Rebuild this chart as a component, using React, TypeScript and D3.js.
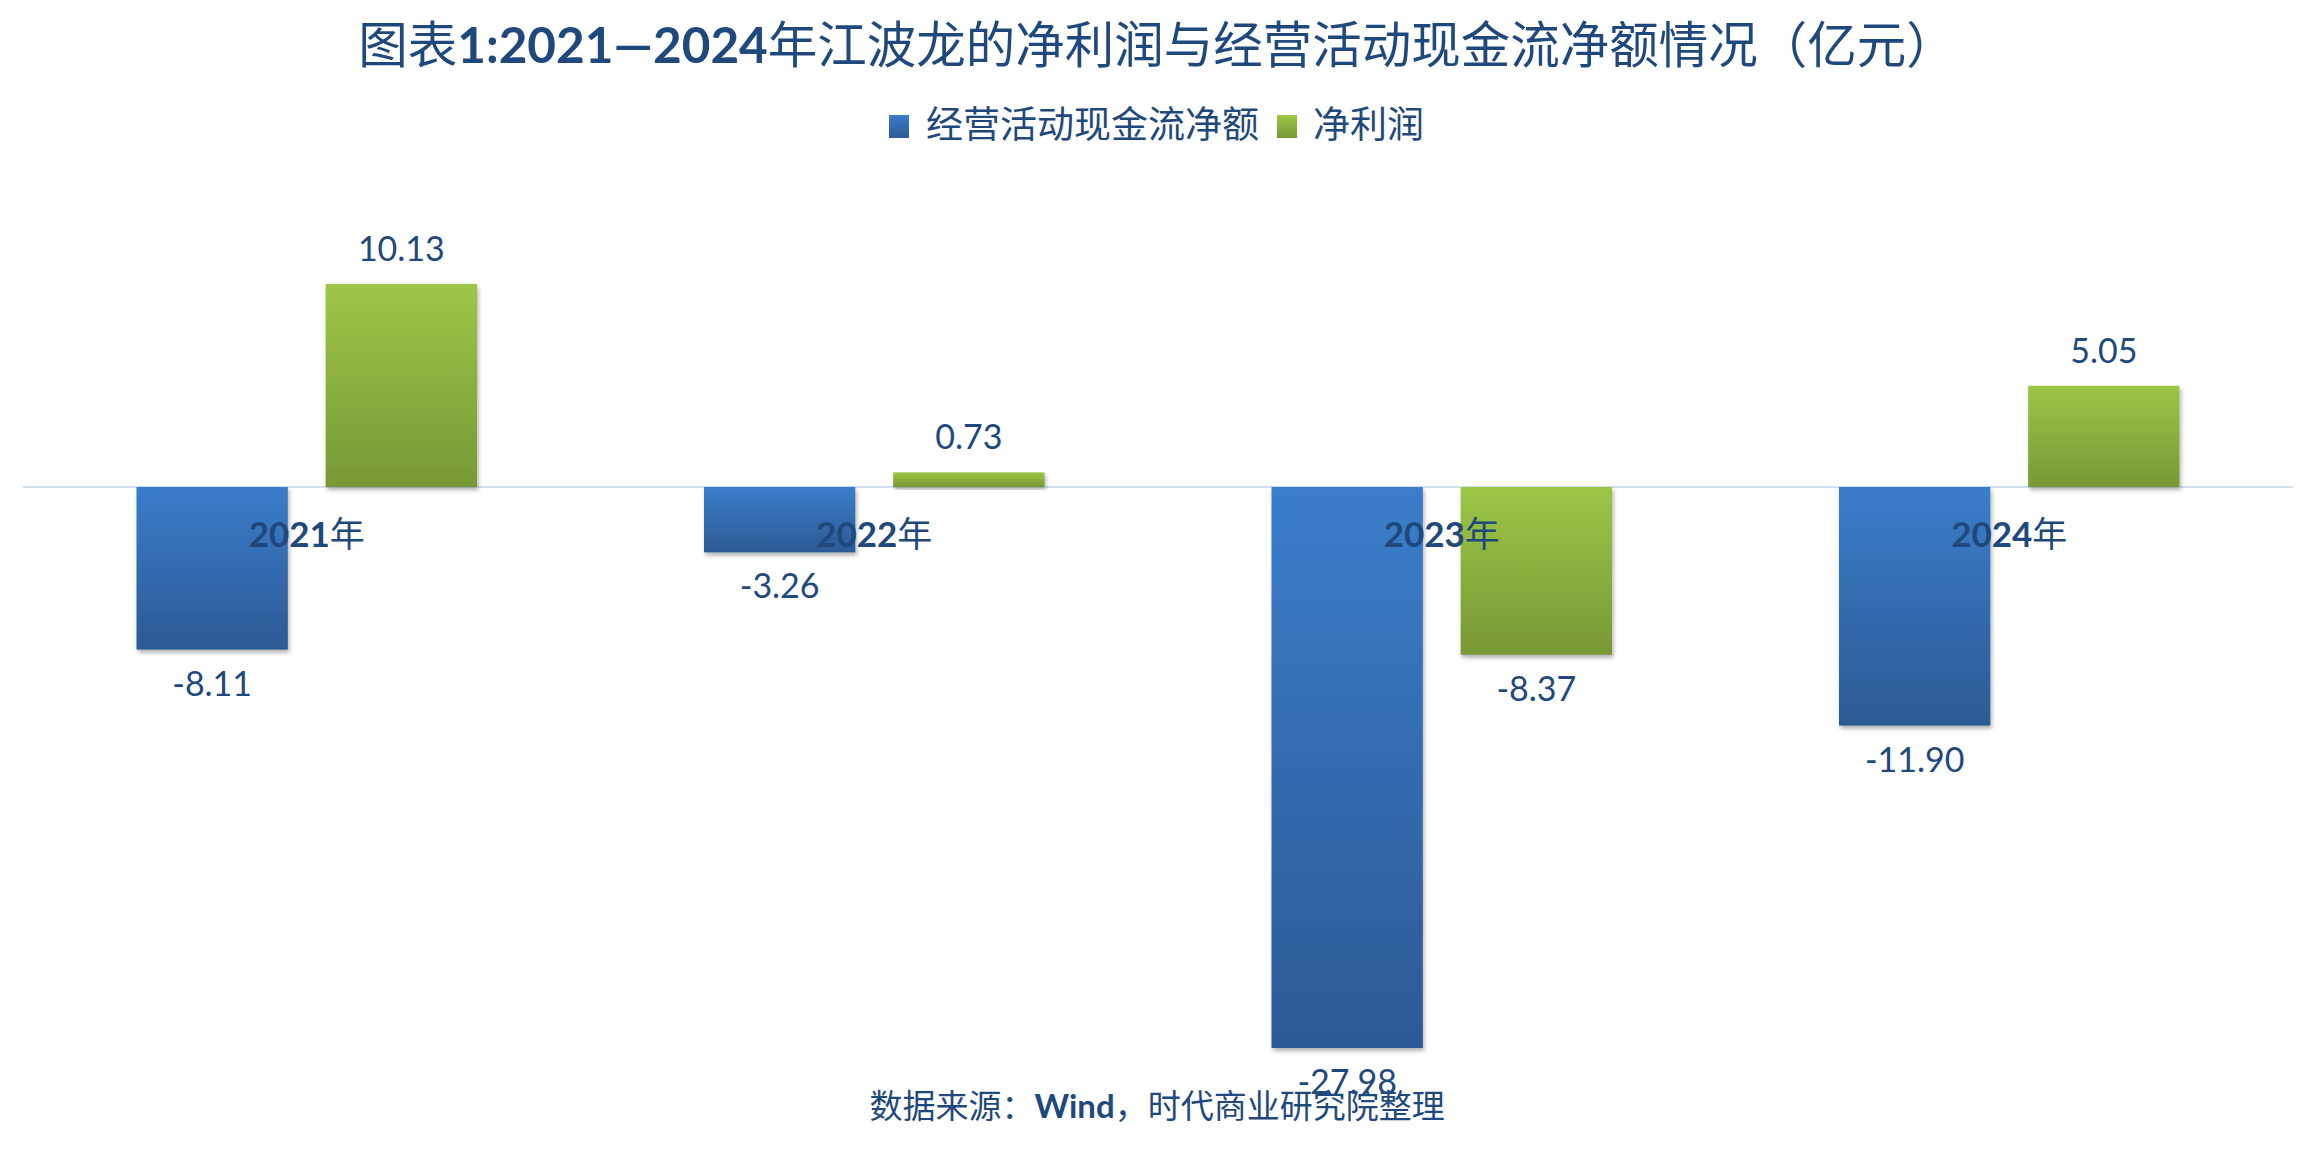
import React from 'react';
import * as d3 from 'd3';

const years = ['2021年', '2022年', '2023年', '2024年'];
const seriesKeys = ['cf', 'np'];
const seriesNames = ['经营活动现金流净额', '净利润'];
const cashFlow = [-8.11, -3.26, -27.98, -11.9];
const netProfit = [10.13, 0.73, -8.37, 5.05];
const labelsCF = ['-8.11', '-3.26', '-27.98', '-11.90'];
const labelsNP = ['10.13', '0.73', '-8.37', '5.05'];

const W = 2314;
const H = 1172;
const TEXT = '#1f497d';
const CJK = "'Noto Sans CJK SC', 'Noto Sans', sans-serif";
const NUM = "Lato, 'Noto Sans', sans-serif";

export default function App() {
  const x = d3.scaleBand<string>().domain(years).range([23, 2293]).paddingInner(0.4).paddingOuter(0.2);
  const xs = d3.scaleBand<string>().domain(seriesKeys).range([0, x.bandwidth()]).paddingInner(0.2);
  const y = d3.scaleLinear().domain([-30, 15]).range([1088.5, 186.25]);
  const y0 = y(0);

  const series = [
    { key: 'cf', values: cashFlow, labels: labelsCF, grad: 'url(#gBlue)' },
    { key: 'np', values: netProfit, labels: labelsNP, grad: 'url(#gGreen)' },
  ];

  return (
    <svg width={W} height={H} style={{ position: 'absolute', left: 0, top: 0, background: '#fff' }}>
      <defs>
        <linearGradient id="gBlue" x1="0" y1="0" x2="0" y2="1">
          <stop offset="0%" stopColor="#3b7dcb" />
          <stop offset="100%" stopColor="#2c5a94" />
        </linearGradient>
        <linearGradient id="gGreen" x1="0" y1="0" x2="0" y2="1">
          <stop offset="0%" stopColor="#9dc647" />
          <stop offset="100%" stopColor="#779835" />
        </linearGradient>
        <filter id="shadow" x="-10%" y="-10%" width="130%" height="130%">
          <feDropShadow dx="1.5" dy="3" stdDeviation="2" floodColor="#000" floodOpacity="0.3" />
        </filter>
      </defs>
      <rect x={0} y={0} width={W} height={H} fill="#fff" />

      {/* Title */}
      <text x={W / 2} y={63} textAnchor="middle" fontSize={49.5} fill={TEXT} fontFamily={CJK}>
        图表<tspan fontFamily={NUM} fontWeight="bold">1:2021—2024</tspan>年江波龙的净利润与经营活动现金流净额情况（亿元）
      </text>

      {/* Legend */}
      <rect x={889} y={115} width={20} height={23} fill="url(#gBlue)" />
      <text x={926} y={138} fontSize={37} fill={TEXT} fontFamily={CJK}>{seriesNames[0]}</text>
      <rect x={1277} y={115} width={20} height={23} fill="url(#gGreen)" />
      <text x={1313} y={138} fontSize={37} fill={TEXT} fontFamily={CJK}>{seriesNames[1]}</text>

      {/* Zero line */}
      <line x1={23} x2={2293} y1={y0} y2={y0} stroke="#d3e0ef" strokeWidth={2} />

      {/* Bars */}
      {series.map((s) =>
        years.map((yr, i) => {
          const v = s.values[i];
          const bx = (x(yr) as number) + (xs(s.key) as number);
          const top = Math.min(y(v), y0);
          const h = Math.abs(y(v) - y0);
          return (
            <rect key={s.key + yr} x={bx} y={top} width={xs.bandwidth()} height={h} fill={s.grad} filter="url(#shadow)" />
          );
        })
      )}

      {/* Category labels */}
      {years.map((yr) => (
        <text key={'c' + yr} x={(x(yr) as number) + x.bandwidth() / 2} y={547} textAnchor="middle" fontSize={35} fill={TEXT} fontFamily={CJK}>
          <tspan fontFamily={NUM} fontWeight="bold">{yr.replace('年', '')}</tspan>年
        </text>
      ))}

      {/* Value labels */}
      {series.map((s) =>
        years.map((yr, i) => {
          const v = s.values[i];
          const cx = (x(yr) as number) + (xs(s.key) as number) + xs.bandwidth() / 2;
          const ly = v >= 0 ? y(v) - 23 : y(v) + 46;
          return (
            <text key={'v' + s.key + yr} x={cx} y={ly} textAnchor="middle" fontSize={34} fill={TEXT} fontFamily={NUM}>
              {s.labels[i]}
            </text>
          );
        })
      )}

      {/* Footer */}
      <text x={W / 2} y={1118} textAnchor="middle" fontSize={33} fill={TEXT} fontFamily={CJK}>
        数据来源：<tspan fontFamily={NUM} fontWeight="bold">Wind</tspan>，时代商业研究院整理
      </text>
    </svg>
  );
}
